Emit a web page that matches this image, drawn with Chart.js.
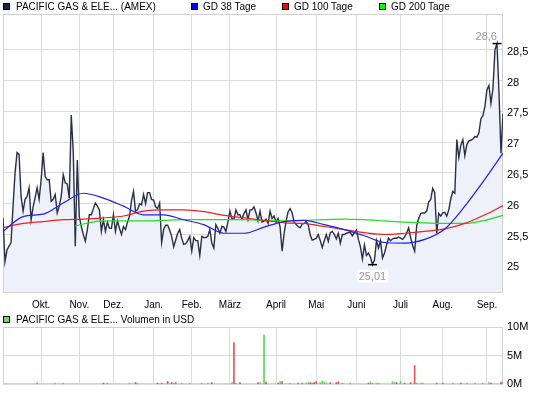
<!DOCTYPE html>
<html>
<head>
<meta charset="utf-8">
<script src="https://cdn.jsdelivr.net/npm/chart.js@4/dist/chart.umd.min.js"></script>
<style>
  body { margin: 0; background: #fff; font-family: "Liberation Sans", Arial, sans-serif; }
  #wrap { position: relative; width: 545px; height: 395px; overflow: hidden; }
  .box { position: absolute; left: 0; width: 545px; }
  .lg { position: absolute; font-size: 10px; line-height: 13px; color: #000; white-space: nowrap; }
  .sq { position: absolute; width: 5px; height: 5px; border: 1px solid #000; }
</style>
</head>
<body>
<div id="wrap">
  <div class="box" style="top:0;height:310px"><canvas id="priceChart" width="545" height="310"></canvas></div>
  <div class="box" style="top:310px;height:85px"><canvas id="volChart" width="545" height="85"></canvas></div>

  <div class="sq" style="left:3px;top:3px;background:#1c2541"></div>
  <div class="lg" style="left:16px;top:0px">PACIFIC GAS &amp; ELE... (AMEX)</div>
  <div class="sq" style="left:191px;top:3px;background:#0000ff"></div>
  <div class="lg" style="left:203px;top:0px">GD 38 Tage</div>
  <div class="sq" style="left:282px;top:3px;background:#ff0000"></div>
  <div class="lg" style="left:294px;top:0px">GD 100 Tage</div>
  <div class="sq" style="left:379px;top:3px;background:#00ff00"></div>
  <div class="lg" style="left:391px;top:0px">GD 200 Tage</div>

  <div class="sq" style="left:3px;top:316px;background:#66dd66"></div>
  <div class="lg" style="left:16px;top:313px">PACIFIC GAS &amp; ELE... Volumen in USD</div>
</div>

<script>
// daily closes, one per trading day (index 0 = late Sep)
const prices = [
  25.77, 25.06, 25.25, 25.31, 25.37, 25.96, 26.50, 26.83, 26.80, 26.12,
  25.88, 26.07, 26.12, 26.26, 25.74, 25.95, 26.10, 26.26, 26.07, 26.39,
  26.83, 26.44, 26.39, 26.39, 26.04, 26.07, 26.15, 25.85, 25.96, 26.12,
  26.47, 26.34, 26.32, 26.09, 27.44, 26.83, 25.31, 26.71, 25.79, 25.63,
  25.50, 25.39, 25.58, 25.82, 25.82, 25.92, 26.01, 25.96, 25.90, 25.55,
  25.74, 25.55, 25.70, 25.60, 25.60, 25.82, 25.55, 25.72, 25.60, 25.50,
  25.63, 25.58, 25.70, 25.80, 26.05, 26.20, 25.88, 25.90, 26.00, 25.98,
  26.15, 26.00, 26.18, 26.18, 26.07, 26.06, 25.95, 25.92, 26.01, 25.37,
  25.58, 25.65, 25.65, 25.57, 25.47, 25.30, 25.41, 25.52, 25.58, 25.44,
  25.34, 25.35, 25.40, 25.47, 25.23, 25.45, 25.40, 25.40, 25.16, 25.47,
  25.45, 25.45, 25.47, 25.58, 25.36, 25.28, 25.66, 25.60, 25.52, 25.63,
  25.62, 25.55, 25.70, 25.88, 25.76, 25.75, 25.90, 25.82, 25.82, 25.75,
  25.84, 25.90, 25.74, 25.90, 25.90, 25.95, 25.85, 25.72, 25.88, 25.70,
  25.72, 25.75, 25.68, 25.88, 25.76, 25.80, 25.70, 25.76, 25.62, 25.23,
  25.52, 25.72, 25.87, 25.92, 25.85, 25.70, 25.66, 25.63, 25.61, 25.67,
  25.68, 25.71, 25.66, 25.49, 25.41, 25.42, 25.44, 25.50, 25.40, 25.29,
  25.40, 25.50, 25.39, 25.53, 25.55, 25.50, 25.43, 25.52, 25.36, 25.50,
  25.50, 25.52, 25.53, 25.53, 25.48, 25.53, 25.57, 25.42, 25.30, 25.10,
  25.33, 25.16, 25.20, 25.13, 25.01, 25.09, 25.40, 25.28, 25.40, 25.12,
  25.20, 25.33, 25.44, 25.40, 25.43, 25.44, 25.44, 25.46, 25.44, 25.42,
  25.46, 25.52, 25.61, 25.45, 25.32, 25.23, 25.64, 25.76, 25.84, 25.85,
  25.85, 25.88, 26.03, 26.07, 26.25, 26.18, 25.52, 25.84, 25.80, 25.85,
  25.86, 25.80, 25.90, 26.08, 26.20, 26.17, 27.04, 26.75, 26.95, 27.04,
  26.78, 26.96, 27.02, 27.03, 27.05, 27.09, 27.08, 27.15, 27.38, 27.43,
  27.58, 27.85, 27.92, 27.63, 27.87, 28.50, 28.60, 27.80, 26.82, 27.46
];

// moving averages at these day indexes
const maIdx = [0, 10, 20, 30, 40, 50, 60, 70, 80, 90, 100, 110, 120, 130, 140, 150, 160, 170, 180, 190, 200, 210, 220, 230, 240, 249];
const ma38 = [25.55, 25.79, 25.83, 26.01, 26.17, 26.09, 25.96, 25.82, 25.82, 25.74, 25.66, 25.52, 25.52, 25.62, 25.71, 25.73, 25.66, 25.58, 25.48, 25.37, 25.36, 25.42, 25.59, 25.96, 26.40, 26.82];
const ma100 = [25.61, 25.68, 25.71, 25.74, 25.75, 25.77, 25.80, 25.88, 25.90, 25.90, 25.87, 25.81, 25.77, 25.73, 25.69, 25.68, 25.63, 25.58, 25.53, 25.50, 25.52, 25.55, 25.59, 25.68, 25.82, 25.97];
const ma200Idx = [36, 40, 50, 60, 70, 80, 90, 100, 110, 120, 130, 140, 150, 160, 170, 180, 190, 200, 210, 220, 230, 240, 249];
const ma200 = [25.64, 25.67, 25.72, 25.72, 25.72, 25.73, 25.74, 25.74, 25.74, 25.74, 25.73, 25.72, 25.73, 25.74, 25.75, 25.74, 25.72, 25.70, 25.69, 25.68, 25.68, 25.73, 25.81];

// volume in millions USD
const volUpIdx = [17, 26, 30, 52, 63, 67, 85, 89, 93, 99, 102, 114, 116, 128, 130, 138, 143, 151, 152, 158, 159, 160, 161, 169, 173, 183, 184, 186, 187, 194, 195, 198, 206, 208, 209, 224, 231, 235, 239, 242];
const volUpVal = [0.3, 0.25, 0.25, 0.25, 0.25, 0.25, 0.25, 0.25, 0.2, 0.25, 0.25, 0.3, 0.25, 0.3, 8.6, 0.5, 0.2, 0.25, 0.3, 0.3, 0.6, 0.4, 0.25, 0.25, 0.25, 0.4, 0.25, 0.25, 0.25, 0.5, 0.3, 0.5, 0.25, 0.25, 0.25, 0.25, 0.25, 0.25, 0.25, 0.3];
const volDownIdx = [50, 66, 77, 79, 82, 84, 86, 104, 115, 118, 127, 131, 137, 139, 147, 149, 153, 154, 155, 156, 163, 166, 167, 182, 196, 200, 203, 205, 216, 219, 228, 243, 248, 249];
const volDownVal = [0.25, 0.3, 0.25, 0.25, 0.5, 0.3, 0.3, 0.3, 7.3, 0.3, 0.3, 0.4, 0.25, 0.5, 0.25, 0.25, 0.3, 0.25, 0.3, 0.5, 0.3, 0.3, 0.5, 0.25, 0.3, 0.25, 0.3, 3.3, 0.25, 0.25, 0.25, 0.25, 0.4, 0.25];

const months = ['Okt.', 'Nov.', 'Dez.', 'Jan.', 'Feb.', 'März', 'April', 'Mai', 'Juni', 'Juli', 'Aug.', 'Sep.'];
const monthIdx = [19, 38, 55, 75, 94, 113, 136, 156, 176, 198, 219, 241];
const priceTicks = [25, 25.5, 26, 26.5, 27, 27.5, 28, 28.5];
const volTicks = [0, 5, 10];

const FONT = '"Liberation Sans", Arial, sans-serif';
const GRID = '#dcdcdc';

const pts = (xs, ys) => xs.map((x, i) => ({ x: x, y: ys[i] }));

// plot frame, drawn under the data
const framePlugin = {
  id: 'frame',
  beforeDatasetsDraw(chart) {
    const a = chart.chartArea, ctx = chart.ctx;
    ctx.save();
    ctx.strokeStyle = '#d0d0d0';
    ctx.lineWidth = 1;
    ctx.strokeRect(Math.round(a.left) + 0.5, Math.round(a.top) + 0.5,
      Math.round(a.right - a.left) - 1, Math.round(a.bottom - a.top) - 1);
    ctx.restore();
  }
};

// high / low markers with value labels
const highLowPlugin = {
  id: 'highLow',
  afterDatasetsDraw(chart) {
    const ctx = chart.ctx, area = chart.chartArea;
    const xs = chart.scales.x, ys = chart.scales.y;
    const hi = Math.max(...prices), lo = Math.min(...prices);
    const marks = [[prices.indexOf(hi), hi, true], [prices.indexOf(lo), lo, false]];
    ctx.save();
    ctx.font = '11px ' + FONT;
    marks.forEach(([i, v, top]) => {
      const x = xs.getPixelForValue(i), y = ys.getPixelForValue(v);
      ctx.strokeStyle = '#000';
      ctx.lineWidth = 1.5;
      ctx.beginPath();
      ctx.moveTo(x - 4.5, y);
      ctx.lineTo(x + 4.5, y);
      ctx.stroke();
      const txt = String(v).replace('.', ',');
      const w = ctx.measureText(txt).width;
      let tx = x - w / 2;
      if (tx + w > area.right - 4) tx = x - w;
      if (!top) {
        ctx.fillStyle = 'rgba(255,255,255,0.85)';
        ctx.fillRect(tx - 2, y + 5, w + 4, 13);
      }
      ctx.fillStyle = '#999';
      ctx.fillText(txt, tx, top ? y - 4 : y + 15);
    });
    ctx.restore();
  }
};

new Chart(document.getElementById('priceChart'), {
  type: 'line',
  data: {
    datasets: [
      {
        data: pts(maIdx, ma38), borderColor: '#2020ee', borderWidth: 1.2,
        pointRadius: 0, cubicInterpolationMode: 'monotone', fill: false
      },
      {
        data: pts(maIdx, ma100), borderColor: '#ee2020', borderWidth: 1.2,
        pointRadius: 0, cubicInterpolationMode: 'monotone', fill: false
      },
      {
        data: pts(ma200Idx, ma200), borderColor: '#22dd22', borderWidth: 1.2,
        pointRadius: 0, cubicInterpolationMode: 'monotone', fill: false
      },
      {
        data: prices.map((p, i) => ({ x: i, y: p })), borderColor: '#283048', borderWidth: 1.4,
        backgroundColor: '#eef1f9', pointRadius: 0, tension: 0, fill: 'start'
      }
    ]
  },
  options: {
    responsive: false,
    animation: false,
    layout: { padding: { top: 14, left: 3, right: 0, bottom: 0 } },
    plugins: {
      legend: { display: false },
      tooltip: { enabled: false },
      filler: { drawTime: 'beforeDatasetsDraw' }
    },
    scales: {
      x: {
        type: 'linear', min: 0, max: 249,
        afterBuildTicks: s => { s.ticks = monthIdx.map(v => ({ value: v })); },
        afterFit: s => { s.height = 17; },
        ticks: {
          autoSkip: false, maxRotation: 0, padding: 6, color: '#000',
          font: { family: FONT, size: 10 },
          callback: (v, i) => months[i]
        },
        grid: { color: GRID, drawTicks: false },
        border: { display: false }
      },
      y: {
        position: 'right', min: 24.55, max: 29.08,
        afterBuildTicks: s => { s.ticks = priceTicks.map(v => ({ value: v })); },
        afterFit: s => { s.width = 42; },
        ticks: {
          padding: 4, labelOffset: 2, color: '#000', font: { family: FONT, size: 11 },
          callback: v => String(v).replace('.', ',')
        },
        grid: { color: GRID, drawTicks: false },
        border: { display: false }
      }
    }
  },
  plugins: [framePlugin, highLowPlugin]
});

new Chart(document.getElementById('volChart'), {
  type: 'bar',
  data: {
    datasets: [
      { data: pts(volUpIdx, volUpVal), backgroundColor: '#5cd65c' },
      { data: pts(volDownIdx, volDownVal), backgroundColor: '#e05555' }
    ]
  },
  options: {
    responsive: false,
    animation: false,
    layout: { padding: { top: 17, left: 3, right: 0, bottom: 0 } },
    plugins: { legend: { display: false }, tooltip: { enabled: false } },
    datasets: { bar: { barThickness: 1, grouped: false } },
    scales: {
      x: {
        type: 'linear', min: 0, max: 249, offset: false,
        afterBuildTicks: s => { s.ticks = monthIdx.map(v => ({ value: v })); },
        afterFit: s => { s.height = 6; },
        ticks: { display: false },
        grid: { color: GRID, drawTicks: false, offset: false },
        border: { display: false }
      },
      y: {
        position: 'right', min: 0, max: 10,
        afterBuildTicks: s => { s.ticks = volTicks.map(v => ({ value: v })); },
        afterFit: s => { s.width = 42; },
        ticks: {
          padding: 4, color: '#000', font: { family: FONT, size: 11 },
          callback: v => v + 'M'
        },
        grid: { color: GRID, drawTicks: false },
        border: { display: false }
      }
    }
  },
  plugins: [framePlugin]
});
</script>
</body>
</html>
